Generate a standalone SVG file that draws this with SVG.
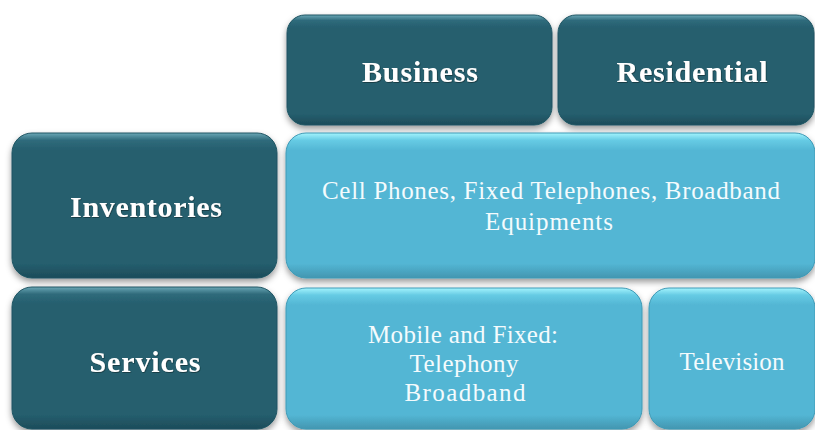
<svg xmlns="http://www.w3.org/2000/svg" width="815" height="430" viewBox="0 0 815 430">
  <defs>
    <linearGradient id="darkFill" x1="0" y1="0" x2="0" y2="1">
      <stop offset="0" stop-color="#6aa7b6"/>
      <stop offset="0.05" stop-color="#2f6b7b"/>
      <stop offset="0.12" stop-color="#255e6e"/>
      <stop offset="0.9" stop-color="#255e6e"/>
      <stop offset="1" stop-color="#1d4c59"/>
    </linearGradient>
    <linearGradient id="lightFill" x1="0" y1="0" x2="0" y2="1">
      <stop offset="0" stop-color="#a4f4fd"/>
      <stop offset="0.05" stop-color="#66cbe4"/>
      <stop offset="0.12" stop-color="#53b6d4"/>
      <stop offset="0.9" stop-color="#53b6d4"/>
      <stop offset="1" stop-color="#4396b0"/>
    </linearGradient>
    <filter id="shadow" x="-10%" y="-10%" width="120%" height="130%">
      <feDropShadow dx="0" dy="3.5" stdDeviation="3" flood-color="#000" flood-opacity="0.4"/>
    </filter>
    <filter id="textShadow" x="-10%" y="-30%" width="120%" height="160%">
      <feDropShadow dx="0.6" dy="0.8" stdDeviation="0.5" flood-color="#0c2a33" flood-opacity="0.8"/>
    </filter>
  </defs>
  <style>
    .dark { fill: url(#darkFill); stroke: #1f5563; stroke-width: 1; filter: url(#shadow); }
    .light { fill: url(#lightFill); stroke: #3f9ab6; stroke-width: 1; filter: url(#shadow); }
    .head { font-family: "Liberation Serif", "Times New Roman", serif; font-weight: bold; font-size: 30px; fill: #ffffff; text-anchor: middle; filter: url(#textShadow); }
    .body { font-family: "Liberation Serif", "Times New Roman", serif; font-size: 25px; fill: #f4fbfd; text-anchor: middle; }
  </style>
  <rect width="815" height="430" fill="#ffffff"/>

  <g id="business">
    <rect class="dark" x="287" y="15" width="265" height="110" rx="18"/>
    <text class="head" x="420" y="82" textLength="116">Business</text>
  </g>
  <g id="residential">
    <rect class="dark" x="558" y="15" width="256" height="110" rx="18"/>
    <text class="head" x="692" y="82" textLength="151">Residential</text>
  </g>
  <g id="inventories">
    <rect class="dark" x="12" y="133" width="265" height="145" rx="20"/>
    <text class="head" x="146" y="217" textLength="152">Inventories</text>
  </g>
  <g id="inventory-items">
    <rect class="light" x="286" y="133" width="529" height="145" rx="20"/>
    <text class="body" x="551" y="199" textLength="458">Cell Phones, Fixed Telephones, Broadband</text>
    <text class="body" x="549" y="230" textLength="128">Equipments</text>
  </g>
  <g id="services">
    <rect class="dark" x="12" y="287" width="265" height="142" rx="20"/>
    <text class="head" x="145" y="372" textLength="111">Services</text>
  </g>
  <g id="telephony-broadband">
    <rect class="light" x="286" y="288" width="356" height="141" rx="20"/>
    <text class="body" x="463" y="343" textLength="190">Mobile and Fixed:</text>
    <text class="body" x="464" y="372" textLength="109">Telephony</text>
    <text class="body" x="465" y="401" textLength="121">Broadband</text>
  </g>
  <g id="television">
    <rect class="light" x="649" y="288" width="166" height="141" rx="20"/>
    <text class="body" x="732" y="370" textLength="105">Television</text>
  </g>
  <g id="connectors"/>
</svg>
